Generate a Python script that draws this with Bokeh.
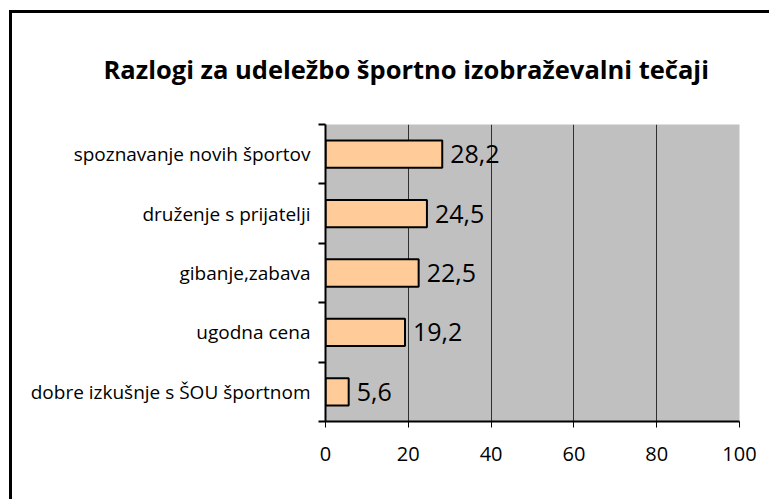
from bokeh.plotting import figure
from bokeh.models import ColumnDataSource, FixedTicker, LabelSet
from bokeh.core.properties import value
from bokeh.embed import file_html
from bokeh.resources import INLINE

title = "Razlogi za udeležbo športno izobraževalni tečaji"
categories = ["dobre izkušnje s ŠOU športnom", "ugodna cena", "gibanje,zabava",
              "druženje s prijatelji", "spoznavanje novih športov"]
values = [5.6, 19.2, 22.5, 24.5, 28.2]
x_ticks = [0, 20, 40, 60, 80, 100]

FONT = "Open Sans"

pos = [i + 0.5 for i in range(len(categories))]
src = ColumnDataSource(dict(y=pos, v=values,
                            lab=[str(v).replace(".", ",") for v in values]))

W, H = 757, 486
p = figure(width=W, height=H, output_backend="svg", toolbar_location=None,
           x_range=(0, 100), y_range=(0, len(categories)),
           min_border_left=313, min_border_right=30, min_border_top=111,
           min_border_bottom=78)
# outer chart frame (left and top edges visible; drawn as shadows so the
# element itself does not overflow)
p.styles = {"margin-left": "12px", "margin-top": "13px",
            "box-shadow": "-3px 0 0 0 black, 0 -3px 0 0 black, -3px -3px 0 0 black"}
p.background_fill_color = "#C0C0C0"
p.border_fill_color = "white"
p.outline_line_color = None

p.title.text = title
p.title.align = "left"
p.title.offset = -222
p.title.vertical_align = "top"
p.title.standoff = 74
p.title.text_font = FONT
p.title.text_font_style = "bold"
p.title.text_font_size = "25.5px"
p.title.text_color = "black"

p.hbar(y="y", right="v", left=0, height=0.46, source=src,
       fill_color="#FFCC99", line_color="black", line_width=2)

p.add_layout(LabelSet(x="v", y="y", text="lab", source=src, x_offset=8,
                      text_baseline="middle", text_font=value(FONT),
                      text_font_size="25px", text_color="black"))

# axes
p.xaxis.ticker = FixedTicker(ticks=x_ticks)
p.xaxis.axis_line_color = "black"
p.xaxis.axis_line_width = 2
p.xaxis.major_tick_out = 6
p.xaxis.major_tick_in = 0
p.xaxis.minor_tick_out = 0
p.xaxis.major_label_standoff = 19
p.xaxis.major_label_text_font = FONT
p.xaxis.major_label_text_font_size = "20px"
p.xaxis.major_label_text_color = "black"

p.yaxis.ticker = FixedTicker(ticks=pos, minor_ticks=list(range(len(categories) + 1)))
p.yaxis.major_label_overrides = {pp: c for pp, c in zip(pos, categories)}
p.yaxis.axis_line_color = "black"
p.yaxis.axis_line_width = 2
p.yaxis.major_tick_out = 0
p.yaxis.major_tick_in = 0
p.yaxis.minor_tick_out = 7
p.yaxis.minor_tick_in = 0
p.yaxis.minor_tick_line_color = "black"
p.yaxis.minor_tick_line_width = 2
p.yaxis.major_label_standoff = 8
p.yaxis.major_label_text_font = FONT
p.yaxis.major_label_text_font_size = "19px"
p.yaxis.major_label_text_color = "black"

p.xgrid.ticker = FixedTicker(ticks=x_ticks)
p.xgrid.grid_line_color = "#303030"
p.xgrid.grid_line_width = 1
p.ygrid.grid_line_color = None

open("out.html", "w").write(file_html(p, INLINE))
